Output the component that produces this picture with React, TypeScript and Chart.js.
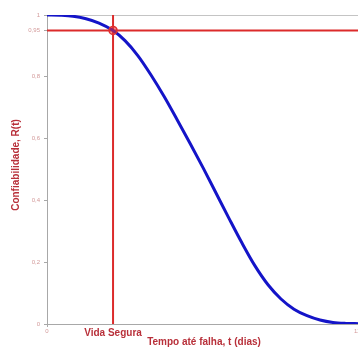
import React, { useEffect, useRef } from "react";
import { Chart, registerables } from "chart.js";

Chart.register(...registerables);

// Reliability curve
const T_VALUES = [0, 5, 10, 15, 20, 25, 30, 35, 40, 45, 50, 55, 60, 65, 70, 75, 80, 85, 90, 95, 100, 105, 110, 115, 120];
const R_VALUES = [1.0, 0.999, 0.996, 0.988, 0.974, 0.952, 0.917, 0.868, 0.806, 0.737, 0.662, 0.585, 0.506, 0.424, 0.342, 0.262, 0.188, 0.127, 0.081, 0.048, 0.027, 0.013, 0.005, 0.002, 0.001];

const VIDA_SEGURA = 25.4;
const R_ALVO = 0.95;
const X_TICKS = [0, 120];
const Y_TICKS = [0, 0.2, 0.4, 0.6, 0.8, 0.95, 1];

const Y_TITLE = "Confiabilidade, R(t)";
const X_TITLE = "Tempo até falha, t (dias)";
const VIDA_LABEL = "Vida Segura";

const TEXT_RED = "#b8303a";
const TICK_COLOR = "#d39a9a";
const AXIS_GRAY = "#a8a8a8";
const LINE_RED = "#dc2b2b";
const BLUE = "#1414c8";
const FONT = "'Liberation Sans', Arial, sans-serif";

export default function App() {
  const ref = useRef<HTMLCanvasElement | null>(null);

  useEffect(() => {
    const canvas = ref.current;
    if (!canvas) return;

    const labelsPlugin = {
      id: "labelsPlugin",
      afterDraw(chart: any) {
        const ctx = chart.ctx;
        const xs = chart.scales.x;
        const area = chart.chartArea;
        ctx.save();
        ctx.fillStyle = TEXT_RED;
        ctx.font = `bold 10px ${FONT}`;
        ctx.textAlign = "center";
        ctx.textBaseline = "middle";
        ctx.fillText(VIDA_LABEL, xs.getPixelForValue(VIDA_SEGURA), 333);
        ctx.fillText(X_TITLE, (area.left + area.right) / 2 + 1, 342);
        ctx.translate(16, 165);
        ctx.rotate(-Math.PI / 2);
        ctx.fillText(Y_TITLE, 0, 0);
        ctx.restore();
      },
    };

    const chart = new Chart(canvas, {
      type: "line",
      data: {
        datasets: [
          {
            label: "ponto",
            data: [{ x: VIDA_SEGURA, y: R_ALVO }],
            showLine: false,
            pointRadius: 4,
            pointBackgroundColor: "rgba(235,50,50,0.55)",
            pointBorderColor: "#e03030",
            pointBorderWidth: 1.5,
          },
          {
            label: "R(t)",
            data: T_VALUES.map((t, i) => ({ x: t, y: R_VALUES[i] })),
            borderColor: BLUE,
            borderWidth: 3,
            pointRadius: 0,
            cubicInterpolationMode: "monotone",
            fill: false,
          },
          {
            label: "alvo",
            data: [{ x: 0, y: R_ALVO }, { x: 120, y: R_ALVO }],
            borderColor: LINE_RED,
            borderWidth: 2,
            pointRadius: 0,
          },
          {
            label: "vida",
            data: [{ x: VIDA_SEGURA, y: 0 }, { x: VIDA_SEGURA, y: 1 }],
            borderColor: LINE_RED,
            borderWidth: 2,
            pointRadius: 0,
          },
        ],
      },
      options: {
        responsive: false,
        animation: false,
        devicePixelRatio: 1,
        layout: { padding: { left: 0, top: 15, right: 13, bottom: 0 } },
        plugins: { legend: { display: false }, tooltip: { enabled: false }, title: { display: false } },
        scales: {
          x: {
            type: "linear",
            min: 0,
            max: 120,
            afterBuildTicks: (s: any) => {
              s.ticks = X_TICKS.map((v) => ({ value: v }));
            },
            afterFit: (s: any) => {
              s.height = 23;
            },
            ticks: { font: { size: 6, family: FONT }, color: TICK_COLOR, padding: 1, maxRotation: 0 },
            grid: { display: true, color: "transparent", tickColor: AXIS_GRAY, tickLength: 3 },
            border: { display: true, color: AXIS_GRAY, width: 1 },
          },
          y: {
            type: "linear",
            min: 0,
            max: 1,
            afterBuildTicks: (s: any) => {
              s.ticks = Y_TICKS.map((v) => ({ value: v }));
            },
            afterFit: (s: any) => {
              s.width = 47;
            },
            ticks: {
              font: { size: 6, family: FONT },
              color: TICK_COLOR,
              padding: 4,
              callback: (v: any) => String(v).replace(".", ","),
            },
            grid: {
              display: true,
              color: (c: any) => (c.tick && c.tick.value === 1 ? "#c4c4c4" : "transparent"),
              tickColor: AXIS_GRAY,
              tickLength: 3,
            },
            border: { display: true, color: AXIS_GRAY, width: 1 },
          },
        },
      },
      plugins: [labelsPlugin],
    });
    return () => chart.destroy();
  }, []);

  return (
    <div style={{ position: "fixed", left: 0, top: 0, width: 358, height: 347, overflow: "hidden", background: "#fff" }}>
      <canvas ref={ref} width={372} height={347} style={{ width: 372, height: 347, display: "block" }} />
    </div>
  );
}
